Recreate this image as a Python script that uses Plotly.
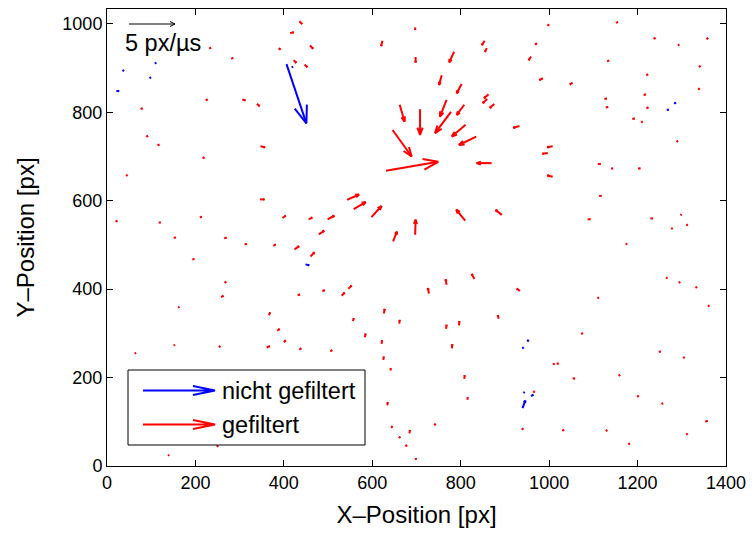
import math
import plotly.graph_objects as go
import plotly.figure_factory as ff

# ---- data: arrow tails (x, y) and displacement (u, v) in plotted px units ----
red_x = [631, 870, 662, 646, 708, 768, 778, 808, 811, 835, 785, 757, 802, 543, 558, 598, 647, 697,
         810, 893, 933, 863, 860, 876, 623, 698, 697, 435, 414, 388, 459, 422, 447, 854, 859, 972,
         1000, 959, 986, 1053, 1008, 997, 1008, 728, 768, 831, 934, 397, 456, 499, 479, 346, 376,
         424, 460, 546, 531, 487, 431, 366, 626, 661, 556, 583, 621, 625, 641, 634, 643, 684, 660,
         675, 696, 385, 400, 361, 435, 505, 886, 767, 796, 780, 808, 815, 740, 1008, 1017, 1053,
         964, 938, 1030, 231, 281, 223, 306, 339, 76, 89, 114, 216, 347, 43, 19, 117, 210, 151,
         265, 311, 193, 266, 258, 161, 63, 151, 253, 138, 248, 1151, 1236, 1291, 1356, 1131, 1339,
         1220, 1337, 1214, 1125, 1128, 1220, 1188, 1208, 1288, 1110, 1140, 1201, 1113, 1087, 1229,
         1297, 1310, 1276, 1173, 1264, 1293, 1331, 1109, 1359, 1072, 1248, 1303, 1157, 1199, 1254,
         1353, 1310, 1128, 1179]
red_y = [668, 685, 817, 760, 807, 828, 801, 817, 772, 745, 937, 884, 864, 602, 581, 563, 508, 523,
         555, 568, 769, 841, 830, 819, 962, 925, 992, 1006, 979, 945, 951, 918, 908, 962, 945, 957,
         999, 926, 877, 867, 723, 708, 654, 390, 410, 423, 396, 561, 558, 558, 524, 603, 498,
         490, 474, 401, 385, 395, 386, 341, 345, 322, 328, 291, 276, 240, 216, 137, 86, 74, 63,
         44, 16, 306, 280, 268, 263, 259, 333, 310, 318, 266, 197, 150, 92, 230, 231, 198,
         166, 82, 79, 944, 921, 827, 829, 819, 807, 744, 725, 696, 723, 656, 553, 550, 562, 516,
         515, 501, 467, 414, 382, 358, 254, 272, 269, 23, 44, 1002, 966, 951, 965, 915, 902,
         883, 851, 838, 830, 811, 809, 785, 777, 733, 683, 673, 673, 611, 558, 560,
         567, 544, 536, 501, 424, 414, 403, 379, 361, 299, 258, 244, 204, 156, 140,
         100, 71, 79, 49]
red_u = [118, -34, 11, 43, 0, -15, -36, -17, -31, -39, -11, -6, -11, 27, 27, 23, 9, 1,
         -20, -14, -14, -10, -10, -10, -3, 0, 0, 6, 8, 4, 7, 6, 6, -6, -4, -3,
         -3, -5, -8, -6, -12, -12, -12, -2, -2, -6, -7, 7, 8, 15, 12, 10, 5,
         10, 9, 7, 6, 5, 5, 3, 2, 1, 2, 2, 1, 1, 1, 1, 2, 1, 3,
         3, 4, 5, 4, 7, 4, 4, -2, 1, 1, 1, 1, 1, 3, 4, 4, 5,
         3, 3, 3, 4, 4, 4, 7, 6, 4, 3, 4, 4, 10, 3, 4, 4, 4, 4,
         5, 5, 4, 3, 5, 2, 2, 2, 3, 2, 3, 4, 4, 3, 3, 4, 3,
         3, 3, 4, 5, 5, 4, 5, 3, 3, 6, 4, 5, 5, 6, 5,
         2, 3, 3, 3, 3, 3, 3, 3, 3, 4, 4, 3, 3, 3, 3,
         5, 3, 3, 3]
red_v = [20, 0, -38, -60, -58, -38, -48, -23, -27, -19, -24, -22, -21, 12, 16, 25, 22, 34,
         25, 11, -4, -9, -9, -9, -12, -12, -5, -6, 2, -3, -7, -6, -6, -10, -8, -4,
         -3, -8, -4, -4, -2, -2, 3, 12, 12, 11, 5, 5, 4, 8, 8, 0, 3,
         7, 9, 7, 7, 3, 2, 6, 10, 8, 6, 8, 8, 7, 5, 7, 4, 7, 3,
         3, 0, 4, 4, 3, 3, 3, 8, 9, 9, 9, 8, 5, 3, 1, 1, 0,
         3, 3, 3, 2, 2, 2, -2, -5, 2, 3, 2, 2, -2, 2, 1, 1, 2, 1,
         1, 1, 1, 3, 3, 2, 2, 2, 2, 2, 2, 2, 2, 2, 3, 2, 3,
         3, 3, 3, 1, 1, 2, 1, 2, 2, 0, 0, 0, 0, 0, 0,
         2, 2, 2, 2, 2, 2, 2, 2, 2, 1, 1, 2, 2, 3, 2,
         2, 2, 2, 2]

blue_x = [406, 108, 35, 96, 21, 418, 1283, 1266, 449, 951, 939, 942, 959, 940]
blue_y = [909, 910, 893, 877, 848, 901, 819, 805, 456, 281, 266, 165, 158, 131]
blue_u = [45, 3, 3, 3, 6, 2, 3, 4, 8, 2, 3, 2, 5, 6]
blue_v = [-134, 2, 2, 2, 0, 2, 3, 1, -2, 4, 2, 2, 3, 17]

ref_speed = 5          # px/us of the reference arrow
x_ticks = [0, 200, 400, 600, 800, 1000, 1200, 1400]
y_ticks = [0, 200, 400, 600, 800, 1000]
legend_labels = ["nicht gefiltert", "gefiltert"]

# ---- figure ----
W, H = 752, 534
ML, MR, MT, MB = 107, 26, 9, 68
XMAX = 1400
plot_w = W - ML - MR
plot_h = H - MT - MB
YMAX = plot_h * XMAX / plot_w

FONT = "Liberation Sans, Arial, Helvetica, sans-serif"

q_red = ff.create_quiver(red_x, red_y, red_u, red_v, scale=1, arrow_scale=0.3,
                         angle=math.pi / 9, line=dict(color="red", width=2))
q_blue = ff.create_quiver(blue_x, blue_y, blue_u, blue_v, scale=1, arrow_scale=0.3,
                          angle=math.pi / 9, line=dict(color="blue", width=2))

fig = go.Figure()
for tr in q_red.data:
    tr.update(showlegend=False, hoverinfo="skip")
    fig.add_trace(tr)
for tr in q_blue.data:
    tr.update(showlegend=False, hoverinfo="skip")
    fig.add_trace(tr)


def px(xp):
    return (xp - ML) / plot_w


def py(yp):
    return (H - MB - yp) / plot_h


def arrow_path(x0, y0, x1, y1, hl, hw):
    # x/y in screen pixels -> path in paper coords with open V head
    dx, dy = x1 - x0, y1 - y0
    L = math.hypot(dx, dy)
    ux, uy = dx / L, dy / L
    bx, by = x1 - ux * hl, y1 - uy * hl
    p1 = (bx - uy * hw, by + ux * hw)
    p2 = (bx + uy * hw, by - ux * hw)
    return (f"M {px(x0)},{py(y0)} L {px(x1)},{py(y1)} "
            f"M {px(p1[0])},{py(p1[1])} L {px(x1)},{py(y1)} L {px(p2[0])},{py(p2[1])}")


shapes = []
# reference arrow (5 px/us)
shapes.append(dict(type="path", xref="paper", yref="paper",
                   path=arrow_path(129, 24, 175, 24, 5, 2.5),
                   line=dict(color="black", width=1)))
# legend box
shapes.append(dict(type="rect", xref="paper", yref="paper",
                   x0=px(128), x1=px(365), y0=py(445), y1=py(370),
                   line=dict(color="black", width=1), fillcolor="white", layer="above"))
shapes.append(dict(type="path", xref="paper", yref="paper",
                   path=arrow_path(143, 390.5, 215, 390.5, 22, 4.5),
                   line=dict(color="blue", width=2)))
shapes.append(dict(type="path", xref="paper", yref="paper",
                   path=arrow_path(143, 424.5, 215, 424.5, 22, 4.5),
                   line=dict(color="red", width=2)))

TXT = 23.5
annotations = [
    dict(text=f"{ref_speed} px/µs", xref="paper", yref="paper", x=px(123), y=py(43),
         xanchor="left", yanchor="middle", showarrow=False,
         font=dict(family=FONT, size=TXT, color="black")),
    dict(text=legend_labels[0], xref="paper", yref="paper", x=px(220), y=py(390.5),
         xanchor="left", yanchor="middle", showarrow=False,
         font=dict(family=FONT, size=TXT, color="black")),
    dict(text=legend_labels[1], xref="paper", yref="paper", x=px(220), y=py(424.5),
         xanchor="left", yanchor="middle", showarrow=False,
         font=dict(family=FONT, size=TXT, color="black")),
]

axis_common = dict(showgrid=False, zeroline=False, showline=True, mirror="ticks",
                   linecolor="black", linewidth=1, ticks="inside", ticklen=6,
                   tickcolor="black", tickwidth=1,
                   tickfont=dict(family=FONT, size=18, color="black"))

fig.update_layout(
    width=W, height=H,
    margin=dict(l=ML, r=MR, t=MT, b=MB, autoexpand=False),
    paper_bgcolor="white", plot_bgcolor="white",
    showlegend=False,
    xaxis=dict(range=[0, XMAX], tickvals=x_ticks, ticktext=[str(v) for v in x_ticks],
               title=dict(text="X–Position [px]", font=dict(family=FONT, size=24, color="black"),
                          standoff=14),
               **axis_common),
    yaxis=dict(range=[0, YMAX], tickvals=y_ticks, ticktext=[str(v) for v in y_ticks],
               title=dict(text="Y–Position [px]", font=dict(family=FONT, size=24, color="black"),
                          standoff=20),
               **axis_common),
    shapes=shapes,
    annotations=annotations,
)

fig.write_html("out.html")
